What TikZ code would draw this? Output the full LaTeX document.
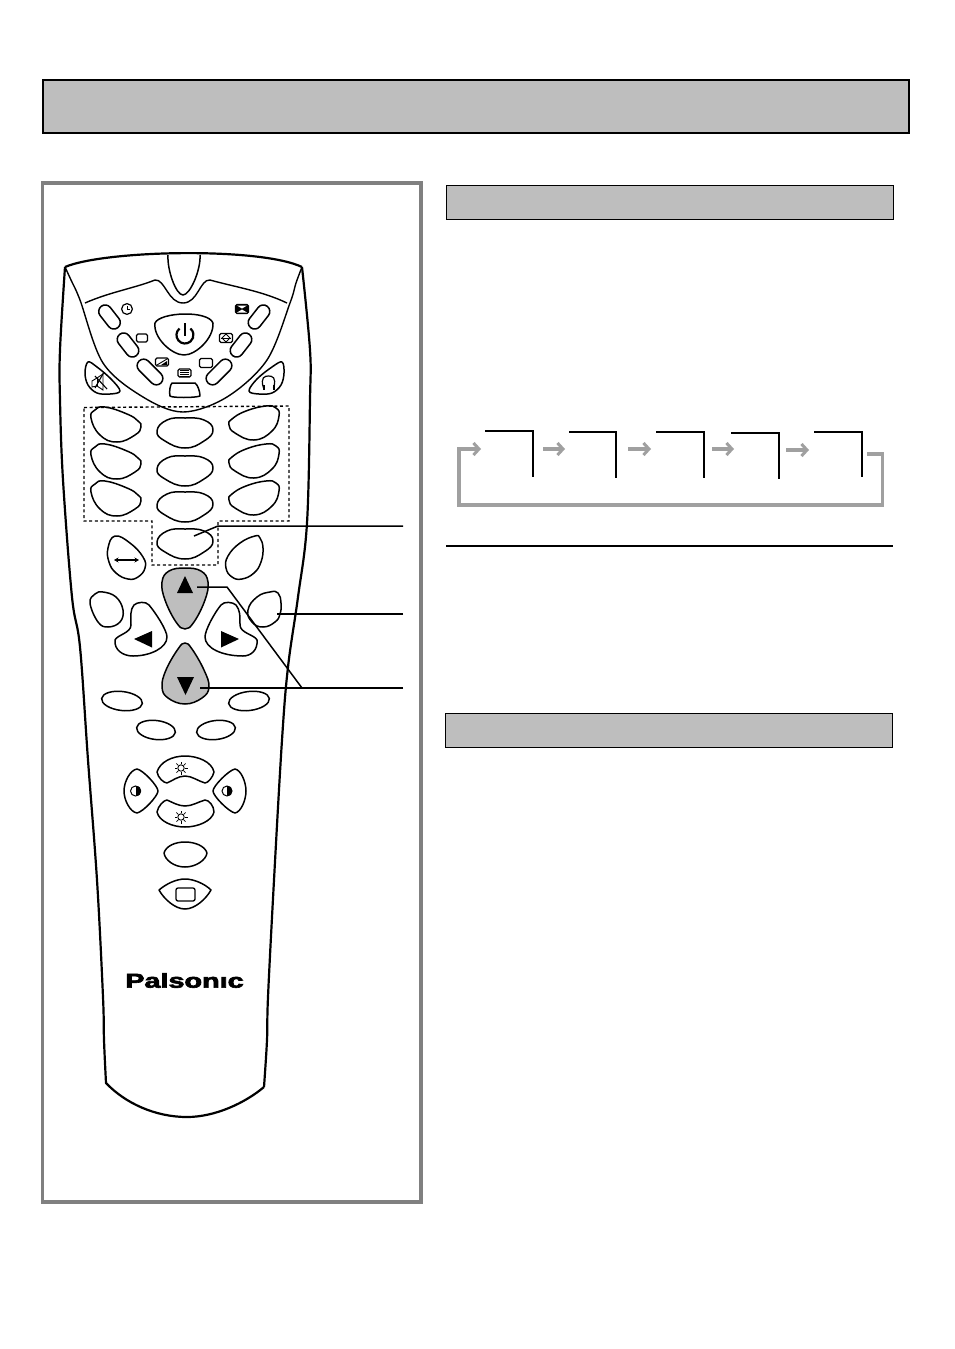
\documentclass[tikz,border=0pt]{standalone}
\usepackage{fontspec}
\setmainfont{Liberation Sans}
\newfontfamily\logofont[FakeBold=3]{Liberation Sans Bold}
\usetikzlibrary{arrows.meta,shapes.misc,shapes.geometric}
\definecolor{bandgray}{HTML}{BEBEBE}
\definecolor{framegray}{HTML}{808080}
\definecolor{flowgray}{HTML}{A0A0A0}
\tikzset{
  x=1pt,y=-1pt,
  band/.style={draw=black,fill=bandgray},
  body/.style={draw=black,line width=2.2pt,line join=round},
  rim/.style={draw=black,line width=1.4pt,line join=round},
  btn/.style={draw=black,line width=1.5pt,fill=white,line join=round},
  graybtn/.style={draw=black,line width=1.5pt,fill=bandgray,line join=round},
  pillbtn/.style={rounded rectangle,draw=black,line width=1.5pt,fill=white,inner sep=0pt,minimum height=13pt},
  ovalbtn/.style={ellipse,draw=black,line width=1.5pt,fill=white,inner sep=0pt},
  iconbox/.style={rectangle,rounded corners=1.5pt,draw=black,line width=1.1pt,inner sep=0pt,minimum width=11pt,minimum height=8pt},
  icon/.style={draw=black,line width=0.9pt},
  leader/.style={draw=black,line width=1.5pt},
  dashbox/.style={draw=black,line width=1.4pt,dash pattern=on 3pt off 2.6pt},
  bracket/.style={draw=black,line width=1.4pt},
  flow/.style={draw=flowgray,line width=3.2pt},
  flowarrow/.style={flow,-{Straight Barb[length=5.5pt,width=12pt,line width=3pt]}},
  leftegg/.pic={\draw[btn] plot[smooth cycle,tension=0.8] coordinates {(-25,-6)(-21,-14)(-11,-17)(11,-10)(22,-3)(25,3)(19,11)(1,18)(-16,11)};},
  rightegg/.pic={\draw[btn] plot[smooth cycle,tension=0.8] coordinates {(25,-7)(22,-15)(12,-17)(-8,-12)(-22,-4)(-25,2)(-19,10)(0,17)(18,8)};},
  midegg/.pic={\draw[btn] plot[smooth cycle,tension=0.8] coordinates {(-28,-2)(-18,-13)(0,-15)(19,-13)(28,-3)(19,8)(0,15)(-20,8)};},
  sunicon/.pic={
    \draw[icon] (0,0) circle (3.2);
    \foreach \a in {0,45,...,315}{\draw[icon,line width=0.7pt] (\a:3.8) -- (\a:6.5);}
  },
  halficon/.pic={
    \draw[icon,line width=1pt] (0,0) circle (5);
    \fill[black] (0,-5.3) .. controls (7,-5.3) and (7,5.3) .. (0,5.3) -- cycle;
  },
}
\begin{document}
\begin{tikzpicture}
\useasboundingbox (0,0) rectangle (954,1349);
\fill[white] (0,0) rectangle (954,1349);

% page panels
\draw[band,line width=2pt] (43,80) rectangle (909,133);
\draw[draw=framegray,line width=3.5pt,fill=white] (42.5,183) rectangle (421,1202);
\draw[band,line width=1pt] (446,185) rectangle (893,219);
\draw[band,line width=1pt] (445,713) rectangle (892,747);
\draw[line width=1.8pt] (446,546) -- (893,546);

% remote body
\draw[body] plot[smooth,tension=0.6] coordinates {(65,267)(60,350)(60,400)(63,480)(72,597)(80,647)(88,760)(97,880)(103,997)(104,1040)(106,1083)}
  .. controls (125,1103) and (155,1117) .. (187,1117)
  .. controls (215,1117) and (245,1103) .. (264,1087);
\draw[body] plot[smooth,tension=0.6] coordinates {(264,1087)(267,1040)(268,997)(274,880)(282,740)(288,667)(298,597)(307,523)(310,400)(310,350)(302,267)};

% top arcs
\draw[rim] plot[smooth,tension=0.55] coordinates {(65,267)(71,280)(80,300)(103,363)(143,397)(183,412)(227,397)(267,360)(290,303)(296,283)(302,267)};
\draw[rim] (85,303) .. controls (110,292) and (135,288) .. (155,280) .. controls (165,279) and (168,303) .. (183,303)
  .. controls (198,303) and (200,279) .. (210,280) .. controls (235,287) and (262,291) .. (287,303);
\draw[btn] (168,255) .. controls (167,270) and (176,295) .. (183,295)
  .. controls (190,295) and (201,270) .. (200,255);
\draw[body] (65,267) .. controls (105,250) and (260,247) .. (302,267);

% power button
\draw[btn] (155,323) .. controls (160,312) and (208,310) .. (213,323)
  .. controls (214,338) and (196,355) .. (184,355)
  .. controls (172,355) and (153,338) .. (155,323) -- cycle;
\draw[line width=2.2pt] (179.5,328.5) arc[start angle=230,end angle=-50,radius=8.5];
\draw[line width=2.2pt] (185,323) -- (185,336);

% pill buttons
\node[pillbtn,rotate=-52,minimum width=27pt] (pillA) at (109.5,317) {};
\node[pillbtn,rotate=-52,minimum width=27pt] (pillB) at (128,345) {};
\node[pillbtn,rotate=-45,minimum width=31pt] (pillC) at (150,372) {};
\node[pillbtn,rotate=52,minimum width=27pt] (pillD) at (259,317) {};
\node[pillbtn,rotate=52,minimum width=27pt] (pillE) at (241,345) {};
\node[pillbtn,rotate=45,minimum width=31pt] (pillF) at (219,372) {};
\draw[btn] (172,383) -- (195,383) .. controls (198,385) and (200,392) .. (200,396)
  .. controls (195,398) and (172,398) .. (170,396) .. controls (169,392) and (170,385) .. (172,383) -- cycle;

% small icons
\draw[icon,line width=1.2pt] (127,309) circle (5.4);
\draw[icon] (127,306) -- (127,309.5) -- (130,309.5);
\node[iconbox] (keyA) at (142,338) {};
\node[iconbox,minimum width=13pt,minimum height=8pt] (keyB) at (162,362) {};
\draw[icon] (157,365) -- (167,359);
\fill[black] (161,365) -- (167,361) -- (167,365) -- cycle;
\node[iconbox,minimum width=13pt,minimum height=8pt] (keyC) at (184.5,373) {};
\foreach \yy in {370.5,372.5,374.5,376}{\draw[icon,line width=0.6pt] (180,\yy) -- (189,\yy);}
\node[iconbox,minimum width=13pt,minimum height=9pt] (keyD) at (206,363) {};
\node[iconbox,minimum width=13pt,minimum height=9pt,line width=1.4pt] (keyE) at (226,338) {};
\draw[icon] (221,338) -- (231,338);
\draw[icon] (226,334) -- (222,338) -- (226,342) -- (230,338) -- cycle;
\node[iconbox,minimum width=13pt,minimum height=9pt,fill=black] (keyF) at (242,309) {};
\fill[white] (237,305.5) -- (247,305.5) -- (242,308.5) -- cycle;
\fill[white] (237,312.5) -- (247,312.5) -- (242,309.5) -- cycle;

% mute and headphone buttons
\draw[btn] plot[smooth cycle,tension=0.6] coordinates {(88,362)(97,367)(111,379)(120,391)(110,394)(97,393)(88,385)(85,373)};
\draw[icon] (92,381) -- (97,378) -- (103,374) -- (103,390) -- (97,386) -- (92,387) -- cycle;
\draw[icon] (97,378) -- (97,386);
\draw[icon,line width=1.1pt] (95,376) -- (107,389);
\draw[icon,line width=1.1pt] (103.5,373) -- (95,388);
\draw[btn] plot[smooth cycle,tension=0.6] coordinates {(282,362)(272,367)(257,379)(249,391)(259,394)(272,393)(281,385)(284,373)};
\draw[line width=1.2pt] (263.5,388) .. controls (260,377) and (265,376) .. (268.5,376) .. controls (272,376) and (277,377) .. (273.5,388);
\draw[line width=2pt] (263.5,385) -- (263.5,390) (273.5,385) -- (273.5,390);

% number buttons
\pic at (116,424) {leftegg};
\pic at (116,461) {leftegg};
\pic at (116,498) {leftegg};
\pic at (254,423) {rightegg};
\pic at (254,461) {rightegg};
\pic at (254,498) {rightegg};
\pic at (185,433) {midegg};
\pic at (185,471) {midegg};
\pic at (185,507) {midegg};
\pic at (185,544) {midegg};

% dashed region
\draw[dashbox] (84,407.5) -- (289,406) -- (289,521) -- (218,521) -- (218,565) -- (152,565) -- (152,521) -- (84,521) -- cycle;

% side buttons
\draw[btn] plot[smooth cycle,tension=0.75] coordinates {(115,536)(130,543)(143,557)(145,568)(138,577)(128,579)(116,573)(109,562)(108,548)};
\draw[line width=1.2pt,{Stealth[length=4.5pt,width=5pt]}-{Stealth[length=4.5pt,width=5pt]}] (114,560) -- (139,560);
\draw[btn] plot[smooth cycle,tension=0.75] coordinates {(255,536)(260,538)(263,548)(261,562)(254,573)(242,579)(232,577)(226,568)(228,556)(240,543)};

% arrow pad
\draw[graybtn] plot[smooth cycle,tension=0.7] coordinates {(185,568)(201,571)(208,582)(205,600)(194,622)(185,629)(176,622)(165,600)(162,582)(169,571)};
\draw[graybtn] plot[smooth cycle,tension=0.7] coordinates {(185,643)(192,649)(204,670)(209,687)(202,698)(185,704)(168,698)(162,687)(166,670)(178,649)};
\fill[black] (185,576) -- (177,593) -- (193,593) -- cycle;
\fill[black] (177,677) -- (194,677) -- (185.5,695) -- cycle;
\draw[btn] plot[smooth cycle,tension=0.7] coordinates {(90,603)(95,594)(103,592)(116,597)(123,610)(120,622)(108,627)(98,622)};
\draw[btn] plot[smooth cycle,tension=0.8] coordinates {(281,603)(278,593)(270,592)(257,597)(248,610)(252,622)(263,627)(275,622)(280,614)};
\draw[btn] (134,605) .. controls (137,602) and (146,601) .. (149,605)
  .. controls (155,612) and (167,630) .. (167,637) .. controls (167,648) and (150,656) .. (133,656)
  .. controls (123,656) and (114,650) .. (115,640) .. controls (117,635) and (131,633) .. (131,625)
  .. controls (131,615) and (130,610) .. (134,605) -- cycle;
\draw[btn] (236,605) .. controls (233,602) and (224,601) .. (221,605)
  .. controls (215,612) and (205,630) .. (205,637) .. controls (205,648) and (222,656) .. (243,656)
  .. controls (251,656) and (258,650) .. (257,640) .. controls (255,635) and (240,633) .. (240,625)
  .. controls (240,615) and (240,610) .. (236,605) -- cycle;
\fill[black] (134,639) -- (152,631) -- (152,647.5) -- cycle;
\fill[black] (221,631) -- (221,647.5) -- (239,639) -- cycle;

% small ovals
\node[ovalbtn,rotate=-7,minimum width=41pt,minimum height=19pt] (ovalA) at (122,701) {};
\node[ovalbtn,rotate=7,minimum width=41pt,minimum height=19pt] (ovalB) at (249,701) {};
\node[ovalbtn,rotate=-7,minimum width=39pt,minimum height=19pt] (ovalC) at (156,730) {};
\node[ovalbtn,rotate=7,minimum width=39pt,minimum height=19pt] (ovalD) at (216,730) {};

% picture keys
\draw[btn] (157,772) .. controls (160,762) and (172,756) .. (185,756)
  .. controls (198,756) and (212,762) .. (214,772)
  .. controls (213,777) and (208,783) .. (205,783)
  .. controls (198,781) and (192,776) .. (185,776)
  .. controls (178,776) and (172,781) .. (167,783)
  .. controls (164,783) and (158,778) .. (157,772) -- cycle;
\draw[btn] (157,812) .. controls (158,806) and (164,800) .. (167,800)
  .. controls (172,802) and (178,806) .. (185,806)
  .. controls (192,806) and (198,802) .. (205,800)
  .. controls (209,800) and (214,806) .. (214,812)
  .. controls (212,821) and (198,827) .. (185,827)
  .. controls (172,827) and (159,821) .. (157,812) -- cycle;
\pic at (181,768) {sunicon};
\pic at (181,817) {sunicon};
\draw[btn] (137,769) .. controls (143,770) and (158,786) .. (158,791)
  .. controls (158,796) and (143,812) .. (137,813)
  .. controls (130,812) and (124,800) .. (124,791)
  .. controls (124,782) and (130,770) .. (137,769) -- cycle;
\draw[btn] (235,769) .. controls (229,770) and (213,786) .. (213,791)
  .. controls (213,796) and (229,812) .. (235,813)
  .. controls (241,812) and (246,800) .. (246,791)
  .. controls (246,782) and (241,770) .. (235,769) -- cycle;
\pic at (135.5,791) {halficon};
\pic at (227,791) {halficon};

% lower keys
\draw[btn] (164,853) .. controls (166,846) and (175,842) .. (185,842)
  .. controls (195,842) and (205,846) .. (207,853)
  .. controls (206,860) and (196,867) .. (185,867)
  .. controls (174,867) and (165,860) .. (164,853) -- cycle;
\draw[btn] (159,890) .. controls (166,884) and (176,879) .. (185,879)
  .. controls (194,879) and (205,884) .. (211,890)
  .. controls (206,899) and (195,909) .. (185,909)
  .. controls (175,909) and (164,899) .. (159,890) -- cycle;
\node[rectangle,rounded corners=2pt,draw=black,line width=1.3pt,minimum width=19pt,minimum height=13pt,inner sep=0pt] (keyG) at (185.5,894.5) {};

% logo
\node[inner sep=0pt,anchor=center,xscale=1.44,yscale=1] (logo) at (184.5,980.5) {\fontsize{20}{20}\logofont Palsonıc};

% leaders
\coordinate (la) at (403,526);
\coordinate (lb) at (218,526);
\coordinate (lc) at (194,536);
\draw[leader] (la) -- (lb) -- (lc);
\coordinate (ra) at (403,614);
\coordinate (rb) at (277,614);
\draw[leader] (ra) -- (rb);
\coordinate (da) at (403,688);
\coordinate (db) at (200,688);
\draw[leader] (da) -- (db);
\coordinate (ua) at (302,688);
\coordinate (ub) at (227,587);
\coordinate (uc) at (197,587);
\draw[leader] (ua) -- (ub) -- (uc);

% flow
\draw[bracket] (485,431) -- (533,431) -- (533,477);
\draw[bracket] (569,432) -- (616,432) -- (616,478);
\draw[bracket] (656,432) -- (704,432) -- (704,478);
\draw[bracket] (731,433) -- (779,433) -- (779,479);
\draw[bracket] (814,432) -- (862,432) -- (862,477);
\coordinate (fa) at (543,449); \coordinate (fb) at (565,449);
\coordinate (fc) at (628,449); \coordinate (fd) at (651,449);
\coordinate (fe) at (712,449); \coordinate (ff) at (734,449);
\coordinate (fg) at (786,450); \coordinate (fh) at (809,450);
\coordinate (ga) at (867,454); \coordinate (gb) at (882.5,454);
\coordinate (gc) at (882.5,505); \coordinate (gd) at (459,505);
\coordinate (ge) at (459,449); \coordinate (gf) at (481,449);
\draw[flowarrow] (fa) -- (fb);
\draw[flowarrow] (fc) -- (fd);
\draw[flowarrow] (fe) -- (ff);
\draw[flowarrow] (fg) -- (fh);
\draw[flowarrow] (ga) -- (gb) -- (gc) -- (gd) -- (ge) -- (gf);
\end{tikzpicture}
\end{document}
